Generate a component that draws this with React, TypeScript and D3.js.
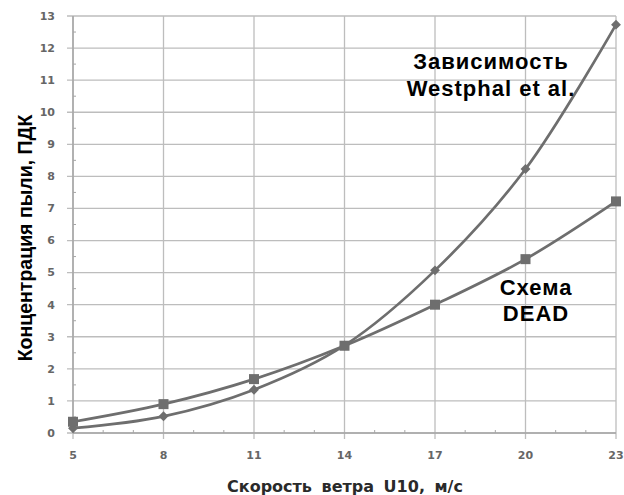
import React from "react";
import * as d3 from "d3";

const categories = [5, 8, 11, 14, 17, 20, 23];
const westphal = [0.15, 0.52, 1.35, 2.73, 5.07, 8.23, 12.73];
const dead = [0.35, 0.9, 1.68, 2.72, 4.0, 5.42, 7.22];
const yTicks = d3.range(0, 14);
const yTitle = "Концентрация пыли, ПДК";
const xTitle = "Скорость ветра U10, м/с";
const label1 = ["Зависимость", "Westphal et al."];
const label2 = ["Схема", "DEAD"];

const W = 624, H = 495;
const left = 73, right = 616, top = 16, bottom = 433;

export default function App() {
  const x = d3.scaleLinear().domain([5, 23]).range([left, right]);
  const y = d3.scaleLinear().domain([0, 13]).range([bottom, top]);
  const line = d3
    .line<number>()
    .x((_, i) => x(categories[i]))
    .y((d) => y(d))
    .curve(d3.curveCatmullRom.alpha(0.5));
  const minorX = d3.range(5, 24, 1).filter((v) => (v - 5) % 3 !== 0);
  const minorY = d3.range(0.5, 13, 1);
  const lineColor = "#6e6e6e";
  return (
    <svg width={W} height={H} style={{ position: "absolute", left: 0, top: 0, background: "#fff" }}>
      <rect x={0} y={0} width={W} height={H} fill="#fff" />
      {yTicks.map((t) => (
        <line key={"gy" + t} x1={left - 6} x2={right} y1={y(t)} y2={y(t)} stroke="#bdbdbd" strokeWidth={1.3} />
      ))}
      {categories.map((c) => (
        <line key={"gx" + c} x1={x(c)} x2={x(c)} y1={top} y2={bottom + 6} stroke="#bdbdbd" strokeWidth={1.3} />
      ))}
      <line x1={left} x2={left} y1={top} y2={bottom} stroke="#a6a6a6" strokeWidth={1.5} />
      <line x1={left} x2={right} y1={bottom} y2={bottom} stroke="#a6a6a6" strokeWidth={1.5} />
      {minorY.map((t) => (
        <line key={"my" + t} x1={left} x2={left + 3} y1={y(t)} y2={y(t)} stroke="#a6a6a6" strokeWidth={1} />
      ))}
      {minorX.map((t) => (
        <line key={"mx" + t} x1={x(t)} x2={x(t)} y1={bottom} y2={bottom - 3} stroke="#a6a6a6" strokeWidth={1} />
      ))}
      {yTicks.map((t) => (
        <text key={"ty" + t} x={left - 18} y={y(t)} dy="0.35em" textAnchor="end" fontFamily="DejaVu Sans" fontWeight="bold" fontSize={11} fill="#666">
          {t}
        </text>
      ))}
      {categories.map((c) => (
        <text key={"tx" + c} x={x(c)} y={bottom + 22} dy="0.35em" textAnchor="middle" fontFamily="DejaVu Sans" fontWeight="bold" fontSize={11} fill="#666">
          {c}
        </text>
      ))}
      <path d={line(westphal) || ""} fill="none" stroke={lineColor} strokeWidth={2.7} />
      <path d={line(dead) || ""} fill="none" stroke={lineColor} strokeWidth={2.7} />
      {westphal.map((v, i) => (
        <rect key={"w" + i} x={-3.5} y={-3.5} width={7} height={7} fill={lineColor}
          transform={`translate(${x(categories[i])},${y(v)}) rotate(45)`} />
      ))}
      {dead.map((v, i) => (
        <rect key={"d" + i} x={x(categories[i]) - 5} y={y(v) - 5} width={10} height={10} fill={lineColor} />
      ))}
      {label1.map((s, i) => (
        <text key={"l1" + i} x={491} y={61 + i * 27} dy="0.35em" textAnchor="middle" fontFamily="Liberation Sans" fontWeight="bold" fontSize={22} letterSpacing={1} fill="#000">
          {s}
        </text>
      ))}
      {label2.map((s, i) => (
        <text key={"l2" + i} x={536} y={287 + i * 26} dy="0.35em" textAnchor="middle" fontFamily="Liberation Sans" fontWeight="bold" fontSize={22} letterSpacing={1} fill="#000">
          {s}
        </text>
      ))}
      <text transform={`translate(32,238) rotate(-90)`} textAnchor="middle" fontFamily="Liberation Sans" fontWeight="bold" fontSize={19.5} fill="#000">
        {yTitle}
      </text>
      <text x={345} y={486} dy="0.35em" textAnchor="middle" fontFamily="DejaVu Sans" fontWeight="bold" fontSize={16} fill="#2a2a2a" style={{ wordSpacing: "4px" }}>
        {xTitle}
      </text>
    </svg>
  );
}
